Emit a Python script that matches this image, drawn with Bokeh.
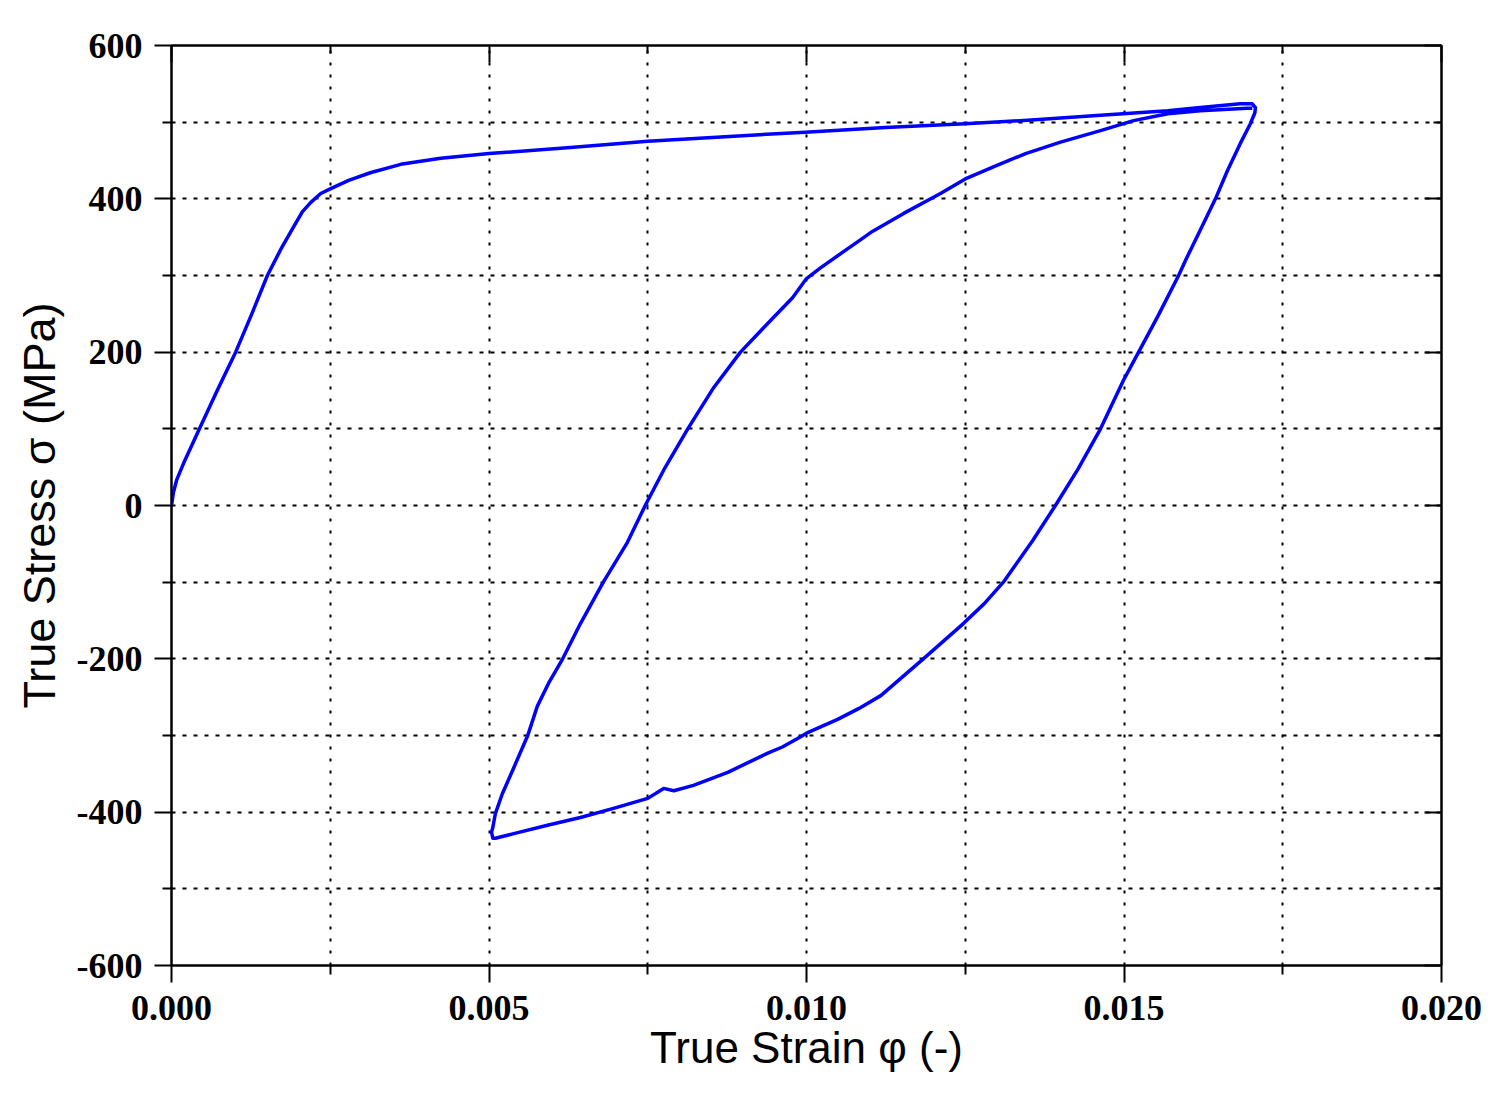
from bokeh.plotting import figure
from bokeh.models import Range1d, LinearAxis, FixedTicker, ColumnDataSource
from bokeh.embed import file_html
from bokeh.resources import INLINE

# ---- data: one hysteresis cycle (initial loading, unloading, reloading) ----
strain = [
    0.0, 0.00003, 0.00008, 0.00019, 0.00044, 0.00072, 0.00101, 0.00126, 0.00151,
    0.00172, 0.00192, 0.00206, 0.00219, 0.00235, 0.0025, 0.00279, 0.00313, 0.00361,
    0.00424, 0.005, 0.00628, 0.0075, 0.00872, 0.00998, 0.01124, 0.0125, 0.0136,
    0.01463, 0.01569, 0.0162, 0.01683, 0.01702, 0.01707,
    # unloading
    0.01706, 0.01699, 0.01683, 0.01663, 0.01644, 0.0162, 0.01597, 0.01586, 0.01554,
    0.01523, 0.01499, 0.01463, 0.01428, 0.01392, 0.01356, 0.01333, 0.0131, 0.01280,
    0.01247, 0.01184, 0.01117, 0.01082, 0.01049, 0.01, 0.00986, 0.00962, 0.00939,
    0.00876, 0.00822, 0.00791, 0.00775, 0.0075, 0.00696, 0.00644, 0.00592, 0.00539,
    0.0051, 0.00506,
    # reloading
    0.00504, 0.00506, 0.0051, 0.00521, 0.00539, 0.00561, 0.00576, 0.00595, 0.00616,
    0.00644, 0.0068, 0.00718, 0.00746, 0.00775, 0.00813, 0.00854, 0.00896, 0.00943,
    0.00978, 0.01, 0.01022, 0.01065, 0.01072, 0.01101, 0.01153, 0.01211, 0.0125,
    0.01298, 0.01345, 0.01400, 0.01463, 0.01515, 0.01569, 0.0162, 0.01694, 0.01702,
]
stress = [
    0, 17, 33, 55, 100, 150, 200, 249, 300,
    334, 363, 383, 395, 407, 413, 424, 434, 445,
    453, 459, 467, 475, 481, 487, 493, 498, 503,
    509, 515, 519, 524, 524, 519,
    # unloading
    512, 498, 472, 437, 400, 359, 320, 300, 248,
    200, 163, 100, 48, 0, -46, -73, -100, -128,
    -154, -200, -248, -265, -279, -297, -304, -315, -323,
    -348, -365, -372, -369, -382, -395, -407, -417, -428,
    -434, -434,
    # reloading
    -426, -420, -402, -376, -342, -300, -262, -230, -200,
    -154, -100, -48, 0, 46, 100, 154, 200, 241,
    271, 296, 310, 335, 339, 356, 381, 407, 426,
    443, 459, 474, 489, 502, 511, 515, 518, 518,
]

x_ticks = [0.0, 0.005, 0.010, 0.015, 0.020]
x_tick_labels = ["0.000", "0.005", "0.010", "0.015", "0.020"]
x_minor_ticks = [0.0025, 0.0075, 0.0125, 0.0175]
y_ticks = [-600, -400, -200, 0, 200, 400, 600]
y_tick_labels = ["-600", "-400", "-200", "0", "200", "400", "600"]
y_minor_ticks = [-500, -300, -100, 100, 300, 500]

x_label = "True Strain \u03c6 (-)"
y_label = "True Stress \u03c3 (MPa)"

W, H = 1504, 1088

# ---- figure ----
p = figure(
    width=W, height=H,
    x_range=Range1d(0, 0.02), y_range=Range1d(-600, 600),
    output_backend="svg", toolbar_location=None,
    min_border_left=171, min_border_right=63,
    min_border_top=45, min_border_bottom=123,
)
p.background_fill_color = "white"
p.border_fill_color = "white"
p.outline_line_color = "black"
p.outline_line_width = 2

xt = FixedTicker(ticks=x_ticks, minor_ticks=x_minor_ticks)
yt = FixedTicker(ticks=y_ticks, minor_ticks=y_minor_ticks)

tick_font = "Liberation Serif"
label_font = "Liberation Sans"

def style_axis(ax, labels_map, ticker, inward=False):
    ax.ticker = ticker
    ax.axis_line_color = "black"
    ax.axis_line_width = 2
    ax.major_tick_line_color = "black"
    ax.major_tick_line_width = 2
    ax.minor_tick_line_color = "black"
    ax.minor_tick_line_width = 2
    if inward:
        ax.major_tick_in = 17
        ax.major_tick_out = 0
        ax.minor_tick_in = 8
        ax.minor_tick_out = 0
    else:
        ax.major_tick_in = 0
        ax.major_tick_out = 17
        ax.minor_tick_in = 0
        ax.minor_tick_out = 9
    ax.major_label_overrides = labels_map
    ax.major_label_text_font = tick_font
    ax.major_label_text_font_style = "bold"
    ax.major_label_text_color = "black"

xmap = {v: s for v, s in zip(x_ticks, x_tick_labels)}
ymap = {v: s for v, s in zip(y_ticks, y_tick_labels)}

bx = p.below[0]
style_axis(bx, xmap, xt)
bx.major_label_text_font_size = "36px"
bx.major_label_standoff = 13
bx.axis_label = x_label
bx.axis_label_text_font = label_font
bx.axis_label_text_font_style = "normal"
bx.axis_label_text_font_size = "44px"
bx.axis_label_text_color = "black"
bx.axis_label_standoff = 0

ly = p.left[0]
style_axis(ly, ymap, yt)
ly.major_label_text_font_size = "36px"
ly.major_label_standoff = 12
ly.axis_label = y_label
ly.axis_label_text_font = label_font
ly.axis_label_text_font_style = "normal"
ly.axis_label_text_font_size = "45px"
ly.axis_label_text_color = "black"
ly.axis_label_standoff = 9

# top and right axes with inward ticks, no labels
top_ax = LinearAxis()
style_axis(top_ax, {v: "" for v in x_ticks}, xt, inward=True)
top_ax.major_label_text_font_size = "1px"
top_ax.major_label_standoff = 0
p.add_layout(top_ax, "above")

right_ax = LinearAxis()
style_axis(right_ax, {v: "" for v in y_ticks}, yt, inward=True)
right_ax.major_label_text_font_size = "1px"
right_ax.major_label_standoff = 0
p.add_layout(right_ax, "right")

# grids (major + minor), dotted black
p.xgrid.ticker = xt
p.ygrid.ticker = yt
for g, dash in ((p.xgrid, "3 9"), (p.ygrid, "4 7")):
    g.grid_line_color = "black"
    g.grid_line_width = 2
    g.grid_line_dash = dash
    g.minor_grid_line_color = "black"
    g.minor_grid_line_width = 2
    g.minor_grid_line_dash = dash

src = ColumnDataSource(dict(strain=strain, stress=stress))
p.line("strain", "stress", source=src, line_color="#0000ff", line_width=3.5,
       line_join="round")

open("out.html", "w").write(file_html(p, INLINE))
